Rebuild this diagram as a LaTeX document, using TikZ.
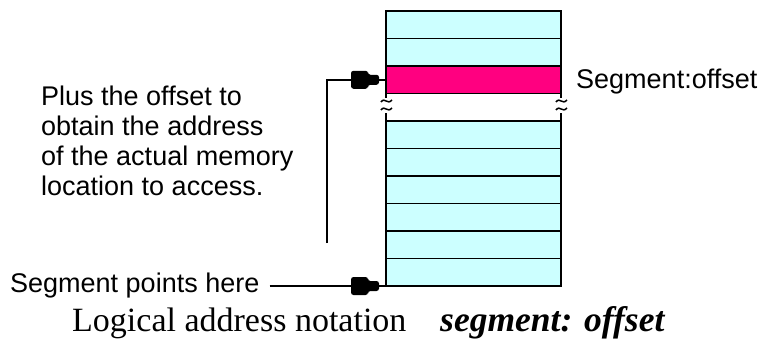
\documentclass[tikz,border=0pt]{standalone}
\usepackage{fontspec}
\setmainfont{Liberation Serif}
\newfontfamily\labelfont{Liberation Sans}
\definecolor{cellcyan}{HTML}{CCFFFF}
\definecolor{cellpink}{HTML}{FF0080}
\begin{document}
\begin{tikzpicture}[x=1pt,y=-1pt,
  cell/.style={draw=black,line width=1.8pt,fill=cellcyan,minimum width=175pt,
    minimum height=27.5pt,inner sep=0pt,outer sep=0pt,anchor=north west},
  hotcell/.style={cell,fill=cellpink},
  wire/.style={draw=black,line width=1.6pt},
  tag/.style={font=\labelfont\fontsize{27}{30}\selectfont,inner sep=0pt,anchor=base west},
  caption/.style={font=\fontsize{34}{40}\selectfont,inner sep=0pt,anchor=base west}]
\useasboundingbox (0,0) rectangle (758,338);

% upper part of the memory stack
\node[cell] (u1) at (386,11) {};
\node[cell] (u2) at (386,38.5) {};
\node[hotcell] (seg) at (386,66) {};

% lower part of the memory stack
\node[cell] (l1) at (386,121) {};
\node[cell] (l2) at (386,148.5) {};
\node[cell] (l3) at (386,176) {};
\node[cell] (l4) at (386,203.5) {};
\node[cell] (l5) at (386,231) {};
\node[cell] (l6) at (386,258.5) {};

% break marks on both sides of the gap
\foreach \bx in {386,561}{
  \draw[wire] (\bx,93.5) -- (\bx,98);
  \draw[wire] (\bx,113) -- (\bx,121);
  \draw[line width=1.5pt] (\bx-5,102) .. controls (\bx-1,96.5) and (\bx+1,105.5) .. (\bx+6,100);
  \draw[line width=1.5pt] (\bx-5,110) .. controls (\bx-1,104.5) and (\bx+1,113.5) .. (\bx+6,108);
}

% labels
\node[tag] (segoff) at (576,88) {Segment:offset};
\node[tag,anchor=north west,align=left] (note) at (41,86)
  {Plus the offset to\\obtain the address\\of the actual memory\\location to access.};
\node[tag] (segpt) at (10,292) {Segment points here};
\node[caption] (cap) at (72,331) {Logical address notation};
\node[caption,font=\fontsize{35.5}{40}\selectfont\bfseries\itshape] (capb) at (440,331) {segment: offset};

% connectors
\coordinate (tail) at (327,243);
\coordinate (base) at (l6.south west);
\draw[wire] (tail) |- (seg.west);
\draw[wire] ([xshift=10pt]segpt.east |- base) -- (base);

% plug-shaped arrow heads
\foreach \tip in {seg.west,base}{
  \fill[black,rounded corners=2.5pt,shift={(\tip)}]
    (-35,-9) -- (-18,-9) -- (-18,-5) -- (-7,-5) -- (-7,5) -- (-18,5) -- (-18,9) -- (-35,9) -- cycle;
}
\end{tikzpicture}
\end{document}
